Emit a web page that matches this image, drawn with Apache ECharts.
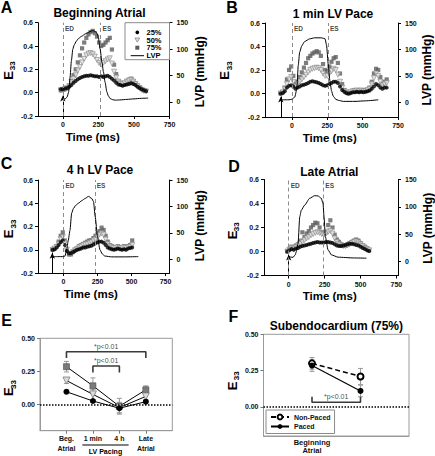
<!DOCTYPE html>
<html>
<head>
<meta charset="utf-8">
<script src="https://cdn.jsdelivr.net/npm/echarts@6.0.0/dist/echarts.min.js"></script>
<style>
html,body{margin:0;padding:0;background:#ffffff;}
#chart{width:435px;height:456px;}
</style>
</head>
<body>
<div id="chart"></div>
<script>
// ---------------- DATA ----------------
// Panel A: Beginning Atrial
const timeA = [-15,0,15,30,45,60,75,90,105,120,135,150,165,180,195,210,225,240,255,270,285,300,315,330,345,360,375,390,405,420,435,450,465,480,495,510,525,540,555,570,585];
const strainA25 = [0.03,0.03,0.035,0.04,0.05,0.065,0.085,0.1,0.115,0.125,0.135,0.14,0.145,0.145,0.15,0.145,0.14,0.14,0.135,0.14,0.135,0.14,0.145,0.135,0.12,0.105,0.085,0.07,0.065,0.06,0.065,0.07,0.075,0.08,0.075,0.065,0.05,0.04,0.03,0.02,0.015];
const strainA50 = [0.02,0.025,0.03,0.04,0.055,0.09,0.12,0.15,0.19,0.22,0.26,0.29,0.32,0.335,0.34,0.33,0.31,0.28,0.255,0.24,0.255,0.27,0.285,0.295,0.25,0.18,0.13,0.095,0.08,0.075,0.08,0.095,0.105,0.11,0.095,0.075,0.055,0.04,0.025,0.015,0.01];
const strainA75 = [0.02,0.025,0.03,0.04,0.06,0.1,0.15,0.2,0.26,0.32,0.38,0.43,0.47,0.5,0.52,0.53,0.51,0.48,0.43,0.4,0.41,0.43,0.45,0.47,0.37,0.24,0.16,0.1,0.075,0.07,0.08,0.1,0.11,0.12,0.1,0.08,0.06,0.045,0.03,0.02,0.015];
const lvpTimeA = [0,15,30,40,50,60,70,80,95,110,130,160,190,210,225,240,250,262,275,285,297,309,320,333,350,370,400,450,500,550,600];
const lvpA = [8,5,9,18,45,78,100,108,115,120,124,129,133,135,134,130,121,100,75,57,37,19,11,6,4,3,3.5,4.5,5.5,6.5,7];

// Panel B: 1 min LV Pace
const timeB = [-80,-65,-50,-35,-20,-5,10,25,40,55,70,85,100,115,130,145,160,175,190,205,220,235,250,265,280,295,310,325,340,355,370,385,400,415,430,445,460,475,490,505,520,535,550,565,580,595,610,625,640,655,670];
const strainB25 = [0.0,0.005,0.02,0.05,0.065,0.07,0.06,0.04,0.05,0.06,0.07,0.075,0.08,0.09,0.1,0.105,0.1,0.095,0.09,0.08,0.07,0.065,0.07,0.08,0.09,0.1,0.1,0.09,0.06,0.03,0.015,0.005,0.0,0.005,0.01,0.01,0.015,0.01,0.015,0.01,0.015,0.02,0.025,0.04,0.06,0.08,0.07,0.05,0.04,0.05,0.05];
const strainB50 = [0.0,0.01,0.04,0.08,0.12,0.14,0.1,0.06,0.08,0.1,0.12,0.14,0.16,0.18,0.2,0.21,0.215,0.22,0.215,0.2,0.17,0.15,0.15,0.17,0.19,0.21,0.2,0.16,0.1,0.05,0.02,0.01,0.005,0.01,0.02,0.02,0.025,0.02,0.025,0.02,0.02,0.03,0.04,0.08,0.13,0.17,0.15,0.1,0.07,0.08,0.09];
const strainB75 = [0.0,0.01,0.05,0.12,0.2,0.23,0.15,0.08,0.1,0.14,0.18,0.22,0.26,0.3,0.32,0.34,0.35,0.36,0.35,0.32,0.25,0.2,0.19,0.23,0.27,0.3,0.31,0.26,0.17,0.08,0.03,0.01,0.0,0.01,0.02,0.03,0.02,0.03,0.02,0.03,0.02,0.03,0.05,0.1,0.17,0.21,0.2,0.14,0.08,0.1,0.12];
const lvpTimeB = [-78,-60,-40,-20,0,20,35,45,55,70,90,125,160,210,235,245,257,269,280,292,310,328,363,446,520,611];
const lvpB = [5,5,5,5,6,10,25,70,95,107,115,120,122,122,120,108,72,40,22,12,6,4,2,2,3,5];

// Panel C: 4 h LV Pace
const timeC = [-80,-65,-50,-35,-20,-5,10,25,40,55,70,85,100,115,130,145,160,175,190,205,220,235,250,265,280,295,310,325,340,355,370,385,400,415,430,445,460,475,490,505];
const strainC25 = [0.0,0.005,0.02,0.04,0.065,0.08,0.04,-0.01,-0.03,-0.03,-0.02,-0.01,0.0,0.005,0.01,0.02,0.02,0.025,0.03,0.035,0.045,0.055,0.065,0.07,0.07,0.06,0.04,0.02,0.01,0.005,0.0,0.005,0.01,0.005,0.0,0.005,0.0,0.01,0.015,0.02];
const strainC50 = [0.0,0.01,0.025,0.05,0.09,0.11,0.06,0.0,-0.035,-0.035,-0.02,-0.005,0.005,0.02,0.03,0.04,0.045,0.05,0.06,0.065,0.08,0.09,0.11,0.13,0.14,0.13,0.09,0.05,0.03,0.02,0.015,0.015,0.02,0.015,0.015,0.02,0.015,0.02,0.025,0.04];
const strainC75 = [0.0,0.01,0.03,0.07,0.12,0.15,0.08,0.0,-0.04,-0.04,-0.02,0.0,0.01,0.03,0.04,0.05,0.06,0.07,0.08,0.08,0.1,0.12,0.14,0.16,0.19,0.17,0.12,0.07,0.04,0.03,0.02,0.02,0.03,0.02,0.02,0.03,0.02,0.03,0.04,0.08];
const lvpTimeC = [-87,-40,0,11,23,35,48,60,73,90,110,135,159,184,208,221,233,250,268,285,305,355,450,550];
const lvpC = [5,5,5,6,17,35,55,87,96,102,106,111,115,119,115,109,81,43,18,10,6,4.5,4.5,5];

// Panel D: Late Atrial
const timeD = [-10,5,20,35,50,65,80,95,110,125,140,155,170,185,200,215,230,245,260,275,290,305,320,335,350,365,380,395,410,425,440,455,470,485,500,515,530,545,560];
const strainD25 = [0.0,0.01,0.02,0.015,0.025,0.03,0.04,0.045,0.05,0.055,0.06,0.065,0.07,0.075,0.08,0.075,0.075,0.075,0.08,0.08,0.075,0.07,0.06,0.05,0.045,0.045,0.05,0.055,0.06,0.065,0.065,0.06,0.055,0.05,0.04,0.03,0.02,0.01,0.005];
const strainD50 = [0.0,0.015,0.03,0.02,0.035,0.05,0.065,0.08,0.095,0.11,0.12,0.135,0.145,0.155,0.16,0.155,0.145,0.14,0.15,0.165,0.17,0.15,0.11,0.08,0.06,0.05,0.045,0.045,0.05,0.06,0.07,0.08,0.085,0.075,0.06,0.045,0.03,0.02,0.01];
const strainD75 = [0.0,0.02,0.04,0.03,0.05,0.06,0.09,0.16,0.12,0.15,0.17,0.2,0.22,0.24,0.235,0.2,0.16,0.15,0.16,0.22,0.26,0.2,0.14,0.1,0.08,0.06,0.05,0.05,0.06,0.07,0.08,0.09,0.1,0.09,0.07,0.05,0.04,0.025,0.01];
const lvpTimeD = [0,15,30,45,53,65,77,88,111,146,181,204,227,239,246,255,274,297,344,450,541];
const lvpD = [10,8,7.6,12,18,33,82,94,103,115.6,120.4,120,115.6,106,82,45.7,21.3,12.2,7.9,6.5,6.1];

// Event markers (ms) for panels A-D
const edTimes = [0,0,0,0];
const esTimes = [265,255,230,241];
const arrowTimes = [0,-78,-82,0];

// Panel E: group means
const groupCats = ['Beg.\nAtrial','1 min','4 h','Late\nAtrial'];
const groupX = [1,2,3,4];
const groupE25 = [0.095,0.025,-0.03,0.02];
const groupE25Err = [0.015,0.01,0.035,0.01];
const groupE50 = [0.18,0.075,-0.025,0.06];
const groupE50Err = [0.022,0.04,0.04,0.025];
const groupE75 = [0.285,0.14,-0.015,0.11];
const groupE75Err = [0.04,0.06,0.06,0.03];

// Panel F: subendocardium (75%)
const subCats = ['Beginning\nAtrial'];
const subX = [1,2];
const nonPaced = [0.30,0.21];
const nonPacedErr = [0.04,0.055];
const paced = [0.285,0.11];
const pacedErr = [0.04,0.04];

// ---------------- CHART ----------------
const FONT = '"Liberation Sans", Arial, sans-serif';
const chart = echarts.init(document.getElementById('chart'), null, {renderer:'svg', width:435, height:456});
const pairs = (xs, ys) => xs.map((x, i) => [x, ys[i]]);

const gridBoxes = [
  {left:38, top:22.7, width:131.5, height:93.3},
  {left:265, top:23, width:133, height:94},
  {left:38, top:180, width:131.5, height:93},
  {left:264, top:179.5, width:134, height:96},
  {left:40, top:338.3, width:132.3, height:92.4},
  {left:263.5, top:334.3, width:145.5, height:101.7}
];
const xMins = [-175,-190,-187,-172];
const xMaxs = [750,750,779,761];
const rMins = [-27,-27.5,-26,-25.6];

const panels = [
  {t:timeA, s25:strainA25, s50:strainA50, s75:strainA75, lt:lvpTimeA, lv:lvpA},
  {t:timeB, s25:strainB25, s50:strainB50, s75:strainB75, lt:lvpTimeB, lv:lvpB},
  {t:timeC, s25:strainC25, s50:strainC50, s75:strainC75, lt:lvpTimeC, lv:lvpC},
  {t:timeD, s25:strainD25, s50:strainD50, s75:strainD75, lt:lvpTimeD, lv:lvpD}
];

const TXT = '#111';
const tickFont = {fontSize:7, fontWeight:'bold', color:TXT, fontFamily:FONT};
const grid = gridBoxes.map((g, i) => Object.assign({containLabel:false, outerBoundsMode:'none',
  show: i >= 4, borderColor:'#9a9a9a', borderWidth:1, backgroundColor:'transparent'}, g));

const xAxis = [], yAxis = [], series = [];

const C75 = '#5c5c5c', C50F = '#e0e0e0', C50B = '#888888';

panels.forEach((p, i) => {
  xAxis.push({type:'value', gridIndex:i, min:xMins[i], max:xMaxs[i],
    axisLine:{show:true, onZero:false, lineStyle:{color:'#000', width:1}},
    axisTick:{show:true, length:3, customValues:[0,250,500,750], lineStyle:{color:'#000'}},
    axisLabel:Object.assign({customValues:[0,250,500,750], margin:5}, tickFont),
    splitLine:{show:false}});
  yAxis.push({type:'value', gridIndex:i, position:'left', min:-0.2, max:0.6, interval:0.2,
    axisLine:{show:true, onZero:false, lineStyle:{color:'#000', width:1}},
    axisTick:{show:true, length:3, lineStyle:{color:'#000'}},
    axisLabel:Object.assign({margin:5, formatter:v => v.toFixed(1)}, tickFont),
    splitLine:{show:false}});
  yAxis.push({type:'value', gridIndex:i, position:'right', min:rMins[i], max:150,
    axisLine:{show:true, onZero:false, lineStyle:{color:'#000', width:1}},
    axisTick:{show:true, length:3, customValues:[0,50,100,150], lineStyle:{color:'#000'}},
    axisLabel:Object.assign({margin:7, customValues:[0,50,100,150]}, tickFont),
    splitLine:{show:false}});
  const yl = 2*i, yr = 2*i+1;
  series.push({name:'75%', type:'scatter', xAxisIndex:i, yAxisIndex:yl, data:pairs(p.t, p.s75),
    symbol:'rect', symbolSize:4.2, itemStyle:{color:C75}, z:2, silent:true, animation:false});
  series.push({name:'50%', type:'scatter', xAxisIndex:i, yAxisIndex:yl, data:pairs(p.t, p.s50),
    symbol:'triangle', symbolRotate:180, symbolSize:5, itemStyle:{color:C50F, borderColor:C50B, borderWidth:0.8}, z:3, silent:true, animation:false});
  series.push({name:'25%', type:'scatter', xAxisIndex:i, yAxisIndex:yl, data:pairs(p.t, p.s25),
    symbol:'circle', symbolSize:4, itemStyle:{color:'#000'}, z:4, silent:true, animation:false,
    markLine:{silent:true, animation:false, symbol:['none','arrow'], symbolSize:[4,6],
      label:{show:false}, lineStyle:{type:'solid', color:'#000', width:1},
      data:[[{coord:[arrowTimes[i], -0.2]}, {coord:[arrowTimes[i], -0.025]}]]}});
  series.push({name:'LVP', type:'line', xAxisIndex:i, yAxisIndex:yr, data:pairs(p.lt, p.lv),
    symbol:'none', smooth:0.2, smoothMonotone:'x', lineStyle:{color:'#000', width:1}, itemStyle:{color:'#000'},
    z:5, silent:true, animation:false,
    markLine:{silent:true, animation:false, symbol:['none','none'], label:{show:false},
      lineStyle:{type:[4,3], color:'#8c8c8c', width:1},
      data:[{xAxis:edTimes[i]}, {xAxis:esTimes[i]}]}});
  series.push({name:'events', type:'scatter', xAxisIndex:i, yAxisIndex:yl, symbolSize:0, silent:true, animation:false,
    data:[{name:'ED', value:[edTimes[i], 0.6]}, {name:'ES', value:[esTimes[i], 0.6]}],
    label:{show:true, formatter:'{b}', position:[2,2], fontSize:6.5, fontWeight:'bold', color:TXT, fontFamily:FONT}});
});

// Panel E axes
xAxis.push({type:'value', gridIndex:4, min:0, max:5,
  axisLine:{show:true, onZero:false, lineStyle:{color:'#9a9a9a'}},
  axisTick:{show:true, length:3, customValues:[1,2,3,4], lineStyle:{color:'#777'}},
  axisLabel:Object.assign({customValues:[1,2,3,4], margin:3, lineHeight:10,
    formatter:v => groupCats[Math.round(v)-1]}, tickFont),
  splitLine:{show:false}});
yAxis.push({type:'value', gridIndex:4, min:-0.2, max:0.5,
  axisLine:{show:true, onZero:false, lineStyle:{color:'#9a9a9a'}},
  axisTick:{show:true, length:3, customValues:[0,0.25,0.5], lineStyle:{color:'#777'}},
  axisLabel:Object.assign({customValues:[0,0.25,0.5], margin:5, formatter:v => v.toFixed(2)}, tickFont),
  splitLine:{show:false}});
// Panel F axes
xAxis.push({type:'value', gridIndex:5, min:0, max:3,
  axisLine:{show:true, onZero:false, lineStyle:{color:'#9a9a9a'}},
  axisTick:{show:false},
  axisLabel:Object.assign({customValues:[1], margin:2, lineHeight:8.5, formatter:() => subCats[0]}, tickFont, {fontSize:7.5}),
  splitLine:{show:false}});
yAxis.push({type:'value', gridIndex:5, min:-0.2, max:0.5,
  axisLine:{show:true, onZero:false, lineStyle:{color:'#9a9a9a'}},
  axisTick:{show:true, length:3, customValues:[0,0.25,0.5], lineStyle:{color:'#777'}},
  axisLabel:Object.assign({customValues:[0,0.25,0.5], margin:5, formatter:v => v.toFixed(2)}, tickFont),
  splitLine:{show:false}});

function errRender(params, api) {
  const x = api.value(0), y = api.value(1), e = api.value(2);
  const top = api.coord([x, y + e]), bot = api.coord([x, y - e]);
  const hw = 2.5, st = {stroke:'#9a9a9a', lineWidth:1};
  return {type:'group', children:[
    {type:'line', shape:{x1:top[0], y1:top[1], x2:bot[0], y2:bot[1]}, style:st},
    {type:'line', shape:{x1:top[0]-hw, y1:top[1], x2:top[0]+hw, y2:top[1]}, style:st},
    {type:'line', shape:{x1:bot[0]-hw, y1:bot[1], x2:bot[0]+hw, y2:bot[1]}, style:st}
  ]};
}
const errSeries = (xi, yi, xs, ys, es) => ({type:'custom', xAxisIndex:xi, yAxisIndex:yi, renderItem:errRender,
  data:xs.map((x, k) => [x, ys[k], es[k]]), encode:{x:0, y:1}, z:1, silent:true, animation:false});

series.push(errSeries(4, 8, groupX, groupE75, groupE75Err));
series.push(errSeries(4, 8, groupX, groupE50, groupE50Err));
series.push(errSeries(4, 8, groupX, groupE25, groupE25Err));
series.push({name:'E 75%', type:'line', xAxisIndex:4, yAxisIndex:8, data:pairs(groupX, groupE75),
  symbol:'rect', symbolSize:6, itemStyle:{color:'#7a7a7a', borderColor:'#4a4a4a', borderWidth:0.6},
  lineStyle:{color:'#000', width:1}, z:3, silent:true, animation:false,
  markLine:{silent:true, animation:false, symbol:['none','none'], label:{show:false},
    lineStyle:{type:[1.5,1.5], color:'#000', width:1.5}, data:[{yAxis:0}]}});
series.push({name:'E 50%', type:'line', xAxisIndex:4, yAxisIndex:8, data:pairs(groupX, groupE50),
  symbol:'triangle', symbolRotate:180, symbolSize:7, itemStyle:{color:'#dcdcdc', borderColor:'#7a7a7a', borderWidth:0.8},
  lineStyle:{color:'#000', width:1}, z:3, silent:true, animation:false});
series.push({name:'E 25%', type:'line', xAxisIndex:4, yAxisIndex:8, data:pairs(groupX, groupE25),
  symbol:'circle', symbolSize:6, itemStyle:{color:'#000'},
  lineStyle:{color:'#000', width:1}, z:4, silent:true, animation:false});
// significance brackets (E)
series.push({name:'bracket1', type:'line', xAxisIndex:4, yAxisIndex:8, symbol:'none', silent:true, animation:false,
  lineStyle:{color:'#3a3a3a', width:1.6}, data:[[1,0.35],[1,0.398],[4,0.398],[4,0.35]], z:2});
series.push({name:'bracket2', type:'line', xAxisIndex:4, yAxisIndex:8, symbol:'none', silent:true, animation:false,
  lineStyle:{color:'#3a3a3a', width:1.6}, data:[[2,0.24],[2,0.29],[3,0.29],[3,0.24]], z:2});
series.push({name:'pE', type:'scatter', xAxisIndex:4, yAxisIndex:8, symbolSize:0, silent:true, animation:false,
  data:[[2.5,0.44],[2.5,0.33]],
  label:{show:true, position:'inside', formatter:'*p<0.01', fontSize:7, color:TXT, fontFamily:FONT}});

// Panel F series
series.push(errSeries(5, 9, subX, nonPaced, nonPacedErr));
series.push(errSeries(5, 9, subX, paced, pacedErr));
series.push({name:'Non-Paced', type:'line', xAxisIndex:5, yAxisIndex:9, data:pairs(subX, nonPaced),
  symbol:'emptyCircle', symbolSize:6, itemStyle:{color:'#000', borderWidth:1},
  lineStyle:{color:'#000', width:1.5, type:[5,3]}, z:3, silent:true, animation:false,
  markLine:{silent:true, animation:false, symbol:['none','none'], label:{show:false},
    lineStyle:{type:[1.5,1.5], color:'#000', width:1.5}, data:[{yAxis:0}]}});
series.push({name:'Paced', type:'line', xAxisIndex:5, yAxisIndex:9, data:pairs(subX, paced),
  symbol:'circle', symbolSize:6, itemStyle:{color:'#000'},
  lineStyle:{color:'#000', width:1.2}, z:4, silent:true, animation:false});
series.push({name:'bracketF', type:'line', xAxisIndex:5, yAxisIndex:9, symbol:'none', silent:true, animation:false,
  lineStyle:{color:'#3a3a3a', width:1.6}, data:[[1,0.07],[1,0.032],[2,0.032],[2,0.07]], z:2});
series.push({name:'pF', type:'scatter', xAxisIndex:5, yAxisIndex:9, symbolSize:0, silent:true, animation:false,
  data:[[1.5,0.07]],
  label:{show:true, position:'inside', formatter:'*p<0.01', fontSize:7, color:TXT, fontFamily:FONT}});

const legend = [
  {orient:'vertical', left:266, top:410, padding:[3,4,3,4], itemGap:1.5, itemWidth:18, itemHeight:6,
   borderColor:'#8a8a8a', borderWidth:1, backgroundColor:'#fff', selectedMode:false,
   textStyle:{fontSize:7, fontWeight:'bold', lineHeight:8, color:TXT, fontFamily:FONT},
   data:['Non-Paced','Paced']}
];

chart.setOption({animation:false, backgroundColor:'#fff', grid, xAxis, yAxis, series, legend});

// ---------------- TEXT ANNOTATIONS ----------------
const txt = (x, y, text, font, rot, align) => ({type:'text', x, y, rotation:rot || 0, silent:true,
  style:{text, font, fill:'#000', align:align || 'center', verticalAlign:'middle',
         textAlign:align || 'center', textVerticalAlign:'middle'}});
const B16 = 'bold 16px ' + FONT, B12 = 'bold 12px ' + FONT, B115 = 'bold 11.5px ' + FONT,
      B12L = 'bold 12px ' + FONT, B13 = 'bold 13px ' + FONT, B8 = 'bold 8px ' + FONT, B75 = 'bold 7.5px ' + FONT;
const R = Math.PI / 2;
const graphic = [
  txt(6.5,7.5,'A',B16), txt(232,7.5,'B',B16), txt(6.5,163,'C',B16), txt(234,166.5,'D',B16),
  txt(6.5,320,'E',B16), txt(233.5,316.7,'F',B16),
  txt(99.5,13.3,'Beginning Atrial',B12), txt(333,14.3,'1 min LV Pace',B12),
  txt(100,170,'4 h LV Pace',B12), txt(329.3,171.7,'Late Atrial',B12),
  txt(336.3,326,'Subendocardium (75%)',B12),
  txt(92.7,136.7,'Time (ms)',B115), txt(329.7,138,'Time (ms)',B115),
  txt(90.8,294,'Time (ms)',B115), txt(329.7,295.5,'Time (ms)',B115),
  txt(200,71.7,'LVP (mmHg)',B12L,R), txt(427,70,'LVP (mmHg)',B12L,R),
  txt(200,225.8,'LVP (mmHg)',B12L,R), txt(427.5,228.3,'LVP (mmHg)',B12L,R)
];
const eAt = [[8,75.3],[224.5,75.3],[8.5,233.8],[232,235],[8.5,391.7],[232,385.8]];
const sAt = [[12.5,65.8],[229.5,65.8],[13,224],[236.8,226.7],[13.5,384.5],[236.8,375.8]];
eAt.forEach((p, k) => {
  graphic.push(txt(p[0], p[1], 'E', B13, R));
  graphic.push(txt(sAt[k][0], sAt[k][1], '33', B8, R));
});

// Legend of panel A (box + symbols + labels)
const lgX = 125, lgY = 22.7, lgW = 44.5, lgH = 37, mkX = 137.3, lbX = 146.5;
const lgRows = [32.3, 40, 47.7, 55.7];
graphic.push({type:'rect', silent:true, shape:{x:lgX, y:lgY, width:lgW, height:lgH}, style:{fill:'#fff', stroke:'#8a8a8a', lineWidth:1}, z:10});
graphic.push({type:'circle', silent:true, shape:{cx:mkX, cy:lgRows[0], r:1.9}, style:{fill:'#000'}, z:11});
graphic.push({type:'polygon', silent:true, shape:{points:[[mkX-2.4,lgRows[1]-2],[mkX+2.4,lgRows[1]-2],[mkX,lgRows[1]+2.2]]}, style:{fill:C50F, stroke:C50B, lineWidth:0.8}, z:11});
graphic.push({type:'rect', silent:true, shape:{x:mkX-2, y:lgRows[2]-2, width:4, height:4}, style:{fill:C75}, z:11});
graphic.push({type:'line', silent:true, shape:{x1:130.7, y1:lgRows[3], x2:144, y2:lgRows[3]}, style:{stroke:'#000', lineWidth:1}, z:11});
['25%','50%','75%','LVP'].forEach((s, k) => {
  const t = txt(lbX, lgRows[k], s, B75, 0, 'left'); t.z = 11; graphic.push(t);
});

// "LV Pacing" grouping under panel E categories 2-3
const px2 = chart.convertToPixel({xAxisIndex:4}, 1.6);
const px3 = chart.convertToPixel({xAxisIndex:4}, 3.35);
graphic.push({type:'line', silent:true, shape:{x1:px2, y1:445, x2:px3, y2:445}, style:{stroke:'#000', lineWidth:1}});
graphic.push(txt((px2 + px3) / 2, 451.5, 'LV Pacing', 'bold 7px ' + FONT));

chart.setOption({graphic});
</script>
</body>
</html>
